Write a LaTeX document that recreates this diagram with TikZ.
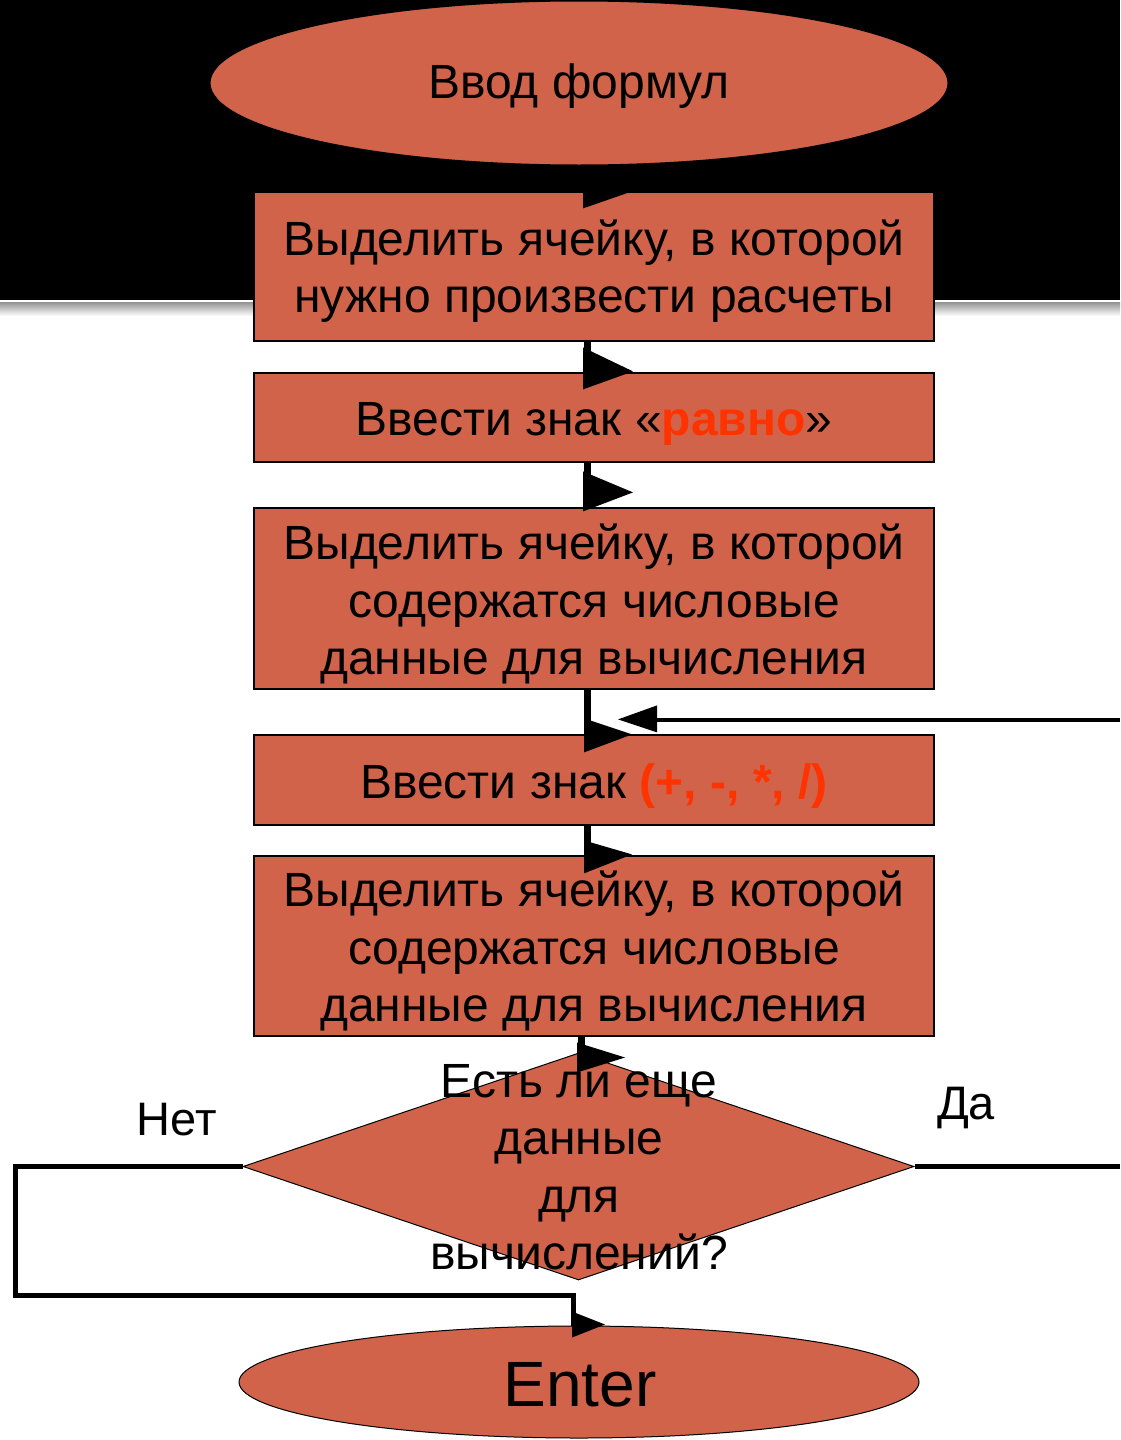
\documentclass[tikz,border=0pt]{standalone}
\usepackage{fontspec}
\setmainfont{Liberation Sans}
\usetikzlibrary{shapes.geometric,calc}
\definecolor{boxfill}{RGB}{208,99,74}
\definecolor{hot}{RGB}{255,51,0}
\begin{document}
\begin{tikzpicture}[x=1pt,y=-1pt,
  stepbox/.style={draw=black, line width=1.2pt, fill=boxfill, minimum width=680pt, inner sep=0pt},
  boxtext/.style={align=center, inner sep=0pt, font=\fontsize{48}{57.5}\selectfont},
  oval/.style={ellipse, draw=black, line width=1pt, fill=boxfill, inner sep=0pt},
  conn/.style={line width=7pt},
  loopline/.style={line width=5pt},
  head/.style={fill=black},
  lbl/.style={font=\fontsize{47}{52}\selectfont, inner sep=0pt}]
\useasboundingbox (0,0) rectangle (1120,1440);
\fill[black] (0,0) rectangle (1120,300);
\shade[top color=gray!85, bottom color=white] (0,302) rectangle (1120,316);

% nodes
\node[oval, minimum width=738pt, minimum height=164pt] (e1) at (579,83) {};
\node[font=\fontsize{48}{52}\selectfont, inner sep=0pt] (e1t) at (579,86) {Ввод формул};
\node[stepbox, minimum height=149pt] (b1) at (594,266.5) {};
\node[boxtext] (b1t) at (594,271) {Выделить ячейку, в которой\\нужно произвести расчеты};
\node[stepbox, minimum height=89pt] (b2) at (594,417.5) {};
\node[boxtext] (b2t) at (594,424) {Ввести знак «\textcolor{hot}{\bfseries равно}»};
\node[stepbox, minimum height=181pt] (b3) at (594,598.5) {};
\node[boxtext] (b3t) at (594,604) {Выделить ячейку, в которой\\содержатся числовые\\данные для вычисления};
\node[stepbox, minimum height=90pt] (b4) at (594,780) {};
\node[boxtext] (b4t) at (594,786) {Ввести знак \textcolor{hot}{\bfseries (+, -, *, /)}};
\node[stepbox, minimum height=180pt] (b5) at (594,946) {};
\node[boxtext] (b5t) at (594,951) {Выделить ячейку, в которой\\содержатся числовые\\данные для вычисления};
\node[diamond, draw=black, line width=1pt, fill=boxfill, inner sep=0pt, minimum width=671pt, minimum height=227pt] (d) at (578.5,1166.5) {};
\node[oval, minimum width=680pt, minimum height=112pt] (e2) at (579,1382) {};
\node[font=\fontsize{64}{70}\selectfont, inner sep=0pt] (e2t) at (580,1385) {Enter};
\node[boxtext] (dt) at (579,1167) {Есть ли еще\\данные\\для\\вычислений?};
\node[lbl] (no) at (177,1120) {Нет};
\node[lbl] (yes) at (966,1108) {Да};

% connector x positions
\coordinate (c1) at (586,0);
\coordinate (c2) at (587,0);
\coordinate (c6) at (581,0);
\coordinate (c7) at (573,0);
\coordinate (lf) at (15,0);
\coordinate (rt) at (1120,0);
\coordinate (ly) at (0,1295);
\coordinate (ry) at (0,720);

\draw[conn] (e1.south -| c1) -- (b1.north -| c1);
\draw[conn] (b1.south -| c2) -- (b2.north -| c2);
\draw[conn] (b2.south -| c2) -- (b3.north -| c2);
\draw[conn] (b3.south -| c2) -- (b4.north -| c2);
\draw[conn] (b4.south -| c2) -- (b5.north -| c2);
\draw[conn] (b5.south -| c6) -- (d.north -| c6);

% Net loop
\draw[loopline] (d.west) -- (d.west -| lf) -- (lf |- ly) -- (c7 |- ly) -- (e2.north -| c7);
% Da line
\draw[line width=4.5pt] (d.east) -- (d.east -| rt);
\draw[line width=4.5pt] (rt |- ry) -- (657,720);

% arrowheads
\fill[head] (b1.north -| c1) ++(-3,-22) -- ++(0,39) -- ++(49,-17) -- cycle;
\fill[head] (b2.north -| c2) ++(-4,-25) -- ++(0,42) -- ++(50,-18) -- cycle;
\fill[head] (b3.north -| c2) ++(-4,-36) -- ++(0,40) -- ++(50,-19) -- cycle;
\fill[head] (b4.north -| c2) ++(-3,-16) -- ++(0,34) -- ++(48,-18) -- cycle;
\fill[head] (b5.north -| c2) ++(-3,-15) -- ++(0,33) -- ++(48,-19) -- cycle;
\fill[head] (d.north -| c6) ++(-4,-10) -- ++(0,30) -- ++(48,-15) -- cycle;
\fill[head] (e2.north -| c7) ++(-1,-14) -- ++(0,26) -- ++(33,-13) -- cycle;
\fill[head] (b4.north -| c2) ++(31,-15) -- ++(39,-14) -- ++(0,27) -- cycle;
\end{tikzpicture}
\end{document}
